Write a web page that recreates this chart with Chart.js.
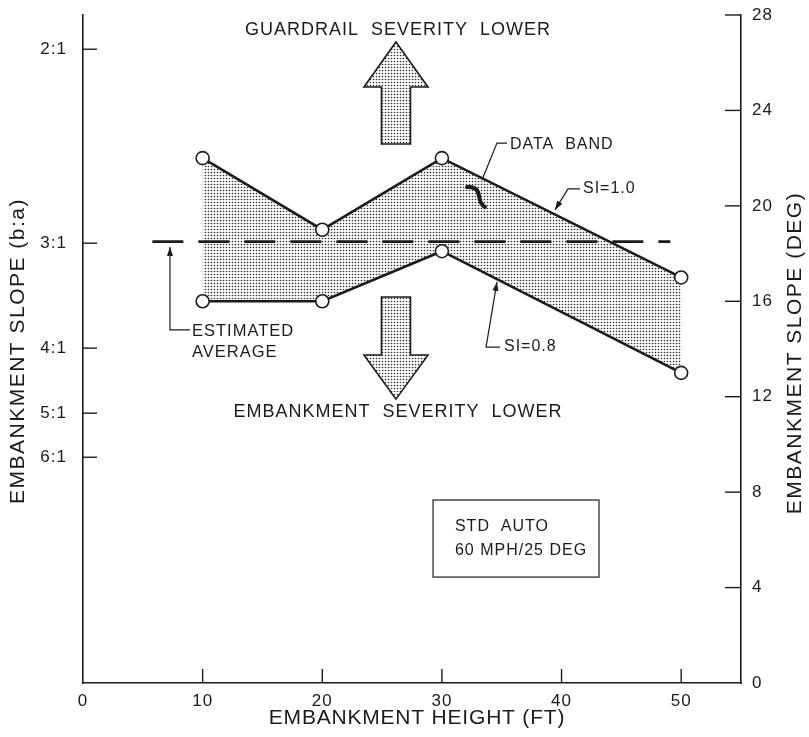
<!DOCTYPE html>
<html><head><meta charset="utf-8">
<script src="https://cdn.jsdelivr.net/npm/chart.js@4.4.0/dist/chart.umd.min.js"></script>
<style>html,body{margin:0;padding:0;background:#fff}canvas{display:block}</style>
</head><body>
<canvas id="c" width="809" height="737"></canvas>
<script>
// ---------- data ----------
const heights = [10, 20, 30, 50];                 // embankment height (ft)
const upperSI10 = [22, 19, 22, 17];               // SI = 1.0 boundary (deg)
const lowerSI08 = [16, 16, 18.1, 13];             // SI = 0.8 boundary (deg)
const avgX = [5.8, 49.1];                         // estimated average line extent (ft)
const avgDeg = [18.5, 18.5];                      // estimated average slope (deg)
const xTickValues = [0, 10, 20, 30, 40, 50];
const degTickValues = [0, 4, 8, 12, 16, 20, 24, 28];
const ratioValues = [2, 3, 4, 5, 6];              // b:a
const ratioLabels = ['2:1', '3:1', '4:1', '5:1', '6:1'];
const xTitle = 'EMBANKMENT HEIGHT (FT)';
const leftTitle = 'EMBANKMENT SLOPE (b:a)';
const rightTitle = 'EMBANKMENT SLOPE (DEG)';

const INK = '#1b1b1b';
const FONT = "'Liberation Sans', Arial, sans-serif";
const ratioDeg = ratioValues.map(b => Math.atan(1 / b) * 180 / Math.PI);

const canvas = document.getElementById('c');
const ctx0 = canvas.getContext('2d');

function makeStipple() {
  const t = document.createElement('canvas');
  t.width = 3; t.height = 3;
  const g = t.getContext('2d');
  g.fillStyle = '#2a2a2a';
  g.beginPath(); g.arc(1.5, 1.5, 0.82, 0, Math.PI * 2); g.fill();
  return ctx0.createPattern(t, 'repeat');
}
const stipple = makeStipple();

// annotation layout (data units)
const notes = {
  upArrow:   {x: 26.16, tip: 26.87, head: 24.98, tail: 22.59},
  downArrow: {x: 26.16, tip: 11.90, head: 13.75, tail: 16.18},
  topText:   {x: 26.33, y: 27.37, text: 'GUARDRAIL  SEVERITY  LOWER'},
  botText:   {x: 26.33, y: 11.36, text: 'EMBANKMENT  SEVERITY  LOWER'},
  avgLeader: [[8.94, 14.80], [7.27, 14.80], [7.27, 18.28]],
  avgText:   {x: 9.11, y1: 14.75, y2: 13.87, t1: 'ESTIMATED', t2: 'AVERAGE'},
  bandLeader:[[35.44, 22.63], [34.60, 22.63], [33.35, 21.08]],
  bandText:  {x: 35.69, y: 22.55, text: 'DATA  BAND'},
  si10Leader:[[41.54, 20.71], [40.54, 20.71], [39.45, 19.83]],
  si10Text:  {x: 41.79, y: 20.71, text: 'SI=1.0'},
  si08Leader:[[34.86, 14.08], [33.69, 14.08], [34.60, 16.81]],
  si08Text:  {x: 35.19, y: 14.08, text: 'SI=0.8'},
  box:       {x1: 29.26, x2: 43.13, y1: 7.67, y2: 4.44, tx: 31.09, ty1: 6.54, ty2: 5.57,
              t1: 'STD  AUTO', t2: '60 MPH/25 DEG'}
};

const annotationPlugin = {
  id: 'notes',
  beforeDraw(chart) { chart.ctx.letterSpacing = '1px'; },
  afterDraw(chart) {
    const {ctx, chartArea: a, scales} = chart;
    const X = v => scales.x.getPixelForValue(v);
    const Y = v => scales.y.getPixelForValue(v);
    ctx.save();
    ctx.strokeStyle = INK; ctx.fillStyle = INK;
    ctx.letterSpacing = '1px';

    // inward tick marks
    ctx.lineWidth = 1.4;
    const line = (x1, y1, x2, y2) => { ctx.beginPath(); ctx.moveTo(x1, y1); ctx.lineTo(x2, y2); ctx.stroke(); };
    scales.x.ticks.forEach(t => { if (t.value === 0) return; const x = X(t.value); line(x, a.bottom, x, a.bottom - 14); });
    scales.yL.ticks.forEach(t => { const y = scales.yL.getPixelForValue(t.value); line(a.left, y, a.left + 14, y); });
    scales.y.ticks.forEach(t => { if (t.value === 0) return; const y = Y(t.value); line(a.right - 16, y, a.right, y); });

    // block arrows
    function blockArrow(n, headHalf, shaftHalf) {
      const cx = X(n.x), tip = Y(n.tip), head = Y(n.head), tail = Y(n.tail);
      ctx.beginPath();
      ctx.moveTo(cx, tip);
      ctx.lineTo(cx + headHalf, head);
      ctx.lineTo(cx + shaftHalf, head);
      ctx.lineTo(cx + shaftHalf, tail);
      ctx.lineTo(cx - shaftHalf, tail);
      ctx.lineTo(cx - shaftHalf, head);
      ctx.lineTo(cx - headHalf, head);
      ctx.closePath();
      ctx.fillStyle = '#fff'; ctx.fill();
      ctx.fillStyle = stipple; ctx.fill();
      ctx.lineWidth = 1.6; ctx.strokeStyle = INK; ctx.stroke();
      ctx.fillStyle = INK;
    }
    blockArrow(notes.upArrow, 32, 14.5);
    blockArrow(notes.downArrow, 32, 14.5);

    // leaders with small arrowheads
    function leader(pts, withHead) {
      const p = pts.map(q => [X(q[0]), Y(q[1])]);
      ctx.lineWidth = 1.2;
      ctx.beginPath(); ctx.moveTo(p[0][0], p[0][1]);
      for (let i = 1; i < p.length; i++) ctx.lineTo(p[i][0], p[i][1]);
      ctx.stroke();
      if (withHead) {
        const [x2, y2] = p[p.length - 1], [x1, y1] = p[p.length - 2];
        const ang = Math.atan2(y2 - y1, x2 - x1), L = 9, W = 3;
        ctx.beginPath();
        ctx.moveTo(x2, y2);
        ctx.lineTo(x2 - L * Math.cos(ang) + W * Math.sin(ang), y2 - L * Math.sin(ang) - W * Math.cos(ang));
        ctx.lineTo(x2 - L * Math.cos(ang) - W * Math.sin(ang), y2 - L * Math.sin(ang) + W * Math.cos(ang));
        ctx.closePath(); ctx.fill();
      }
    }
    leader(notes.avgLeader, true);
    leader(notes.bandLeader, false);
    leader(notes.si10Leader, true);
    leader(notes.si08Leader, true);

    // data band brace mark
    ctx.lineWidth = 4; ctx.lineCap = 'round';
    ctx.beginPath();
    ctx.moveTo(X(32.10), Y(20.79));
    ctx.quadraticCurveTo(X(33.02), Y(20.83), X(33.10), Y(20.41));
    ctx.quadraticCurveTo(X(33.18), Y(20.08), X(33.60), Y(19.95));
    ctx.stroke();
    ctx.lineCap = 'butt';

    // text
    ctx.textBaseline = 'middle';
    ctx.font = `18px ${FONT}`;
    ctx.textAlign = 'center';
    ctx.fillText(notes.topText.text, X(notes.topText.x), Y(notes.topText.y));
    ctx.fillText(notes.botText.text, X(notes.botText.x), Y(notes.botText.y));
    ctx.textAlign = 'left';
    ctx.font = `16.5px ${FONT}`;
    ctx.fillText(notes.avgText.t1, X(notes.avgText.x), Y(notes.avgText.y1));
    ctx.fillText(notes.avgText.t2, X(notes.avgText.x), Y(notes.avgText.y2));
    ctx.font = `16px ${FONT}`;
    ctx.fillText(notes.bandText.text, X(notes.bandText.x), Y(notes.bandText.y));
    ctx.fillText(notes.si10Text.text, X(notes.si10Text.x), Y(notes.si10Text.y));
    ctx.fillText(notes.si08Text.text, X(notes.si08Text.x), Y(notes.si08Text.y));

    // box
    const b = notes.box;
    ctx.lineWidth = 1.2;
    ctx.strokeRect(X(b.x1), Y(b.y1), X(b.x2) - X(b.x1), Y(b.y2) - Y(b.y1));
    ctx.fillText(b.t1, X(b.tx), Y(b.ty1));
    ctx.fillText(b.t2, X(b.tx), Y(b.ty2));

    // axis titles
    ctx.font = `21px ${FONT}`;
    ctx.textAlign = 'center';
    const midY = (a.top + a.bottom) / 2;
    ctx.letterSpacing = '0.8px';
    ctx.fillText(xTitle, (a.left + a.right) / 2 + 5, scales.x.bottom - 19);
    ctx.letterSpacing = '1.5px';
    ctx.save();
    ctx.translate(scales.yL.left + 18, midY + 2);
    ctx.rotate(-Math.PI / 2);
    ctx.fillText(leftTitle, 0, 0);
    ctx.restore();
    ctx.save();
    ctx.translate(scales.y.left + 54, midY + 4);
    ctx.rotate(-Math.PI / 2);
    ctx.fillText(rightTitle, 0, 0);
    ctx.restore();

    ctx.restore();
  }
};

const noPad = s => { s.paddingTop = 0; s.paddingBottom = 0; s.paddingLeft = 0; s.paddingRight = 0; };

new Chart(canvas, {
  type: 'scatter',
  data: {
    datasets: [
      {
        label: 'SI=1.0',
        data: heights.map((h, i) => ({x: h, y: upperSI10[i]})),
        showLine: true, borderColor: INK, borderWidth: 2.6,
        fill: '+1', backgroundColor: stipple,
        pointRadius: 6.5, pointBackgroundColor: '#fff', pointBorderColor: INK, pointBorderWidth: 1.6,
        xAxisID: 'x', yAxisID: 'y'
      },
      {
        label: 'SI=0.8',
        data: heights.map((h, i) => ({x: h, y: lowerSI08[i]})),
        showLine: true, borderColor: INK, borderWidth: 2.6, fill: false,
        pointRadius: 6.5, pointBackgroundColor: '#fff', pointBorderColor: INK, pointBorderWidth: 1.6,
        xAxisID: 'x', yAxisID: 'y'
      },
      {
        label: 'Estimated average',
        data: avgX.map((x, i) => ({x: x, y: avgDeg[i]})),
        showLine: true, borderColor: INK, borderWidth: 2.6, borderDash: [31, 15],
        pointRadius: 0, fill: false, xAxisID: 'x', yAxisID: 'y'
      }
    ]
  },
  options: {
    responsive: false,
    animation: false,
    layout: {padding: {top: 15, left: 0, right: 0, bottom: 0}},
    plugins: {
      legend: {display: false},
      tooltip: {enabled: false},
      filler: {drawTime: 'beforeDatasetsDraw'}
    },
    scales: {
      x: {
        type: 'linear', position: 'bottom', min: 0, max: 55,
        afterBuildTicks: s => { s.ticks = xTickValues.map(v => ({value: v})); },
        afterFit: s => { s.height = 54; noPad(s); },
        grid: {display: false, drawTicks: false},
        border: {display: true, color: INK, width: 1.6},
        ticks: {color: INK, font: {family: FONT, size: 17}, padding: 8},
        title: {display: false, text: xTitle}
      },
      yL: {
        type: 'linear', position: 'left', min: 0, max: 28,
        afterBuildTicks: s => { s.ticks = ratioDeg.map(v => ({value: v})); },
        afterFit: s => { s.width = 83; noPad(s); },
        grid: {display: false, drawTicks: false},
        border: {display: true, color: INK, width: 1.6},
        ticks: {color: INK, font: {family: FONT, size: 17}, padding: 16,
                callback: (v, i) => ratioLabels[i]},
        title: {display: false, text: leftTitle}
      },
      y: {
        type: 'linear', position: 'right', min: 0, max: 28,
        afterBuildTicks: s => { s.ticks = degTickValues.map(v => ({value: v})); },
        afterFit: s => { s.width = 68; noPad(s); },
        grid: {display: false, drawTicks: false},
        border: {display: true, color: INK, width: 1.6},
        ticks: {color: INK, font: {family: FONT, size: 17}, padding: 11},
        title: {display: false, text: rightTitle}
      }
    }
  },
  plugins: [annotationPlugin]
});
</script>
</body></html>
